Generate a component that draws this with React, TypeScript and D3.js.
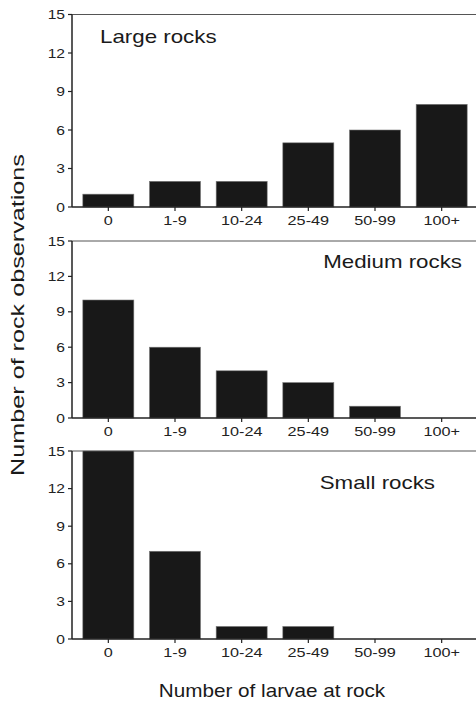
import React from "react";
import * as d3 from "d3";

const categories = ["0", "1-9", "10-24", "25-49", "50-99", "100+"];
const largeRocks = [1, 2, 2, 5, 6, 8];
const mediumRocks = [10, 6, 4, 3, 1, 0];
const smallRocks = [15, 7, 1, 1, 0, 0];
const yTicks = [0, 3, 6, 9, 12, 15];
const panelTitles = ["Large rocks", "Medium rocks", "Small rocks"];
const xTitle = "Number of larvae at rock";
const yTitle = "Number of rock observations";

const W = 476;
const H = 701;
const axisX = 72;
const rightX = 476;

const panels = [
  { title: panelTitles[0], values: largeRocks, top: 14.5, bottom: 207, labelX: 100, labelY: 43, anchor: "start" },
  { title: panelTitles[1], values: mediumRocks, top: 241, bottom: 418, labelX: 462, labelY: 268, anchor: "end" },
  { title: panelTitles[2], values: smallRocks, top: 451, bottom: 639, labelX: 435, labelY: 489, anchor: "end" },
];

const FONT = "'Liberation Sans', Arial, Helvetica, sans-serif";

export default function App() {
  const x = d3
    .scaleBand<string>()
    .domain(categories)
    .range([75, 475])
    .paddingInner(0.235)
    .paddingOuter(0.1175);

  return (
    <svg
      width={W}
      height={H}
      style={{ position: "absolute", left: 0, top: 0, background: "#fff" }}
      fontFamily={FONT}
    >
      {panels.map((p, pi) => {
        const y = d3.scaleLinear().domain([0, 15]).range([p.bottom, p.top]);
        return (
          <g key={pi}>
            <line x1={axisX} x2={rightX} y1={y(15)} y2={y(15)} stroke="#555" strokeWidth={1} />
            {p.values.map((v, i) =>
              v > 0 ? (
                <rect
                  key={i}
                  x={x(categories[i])}
                  y={y(v)}
                  width={x.bandwidth()}
                  height={y(0) - y(v)}
                  fill="#181818"
                  stroke="#777"
                  strokeWidth={0.6}
                />
              ) : null
            )}
            <line x1={axisX} x2={axisX} y1={y(15)} y2={y(0)} stroke="#222" strokeWidth={1.5} />
            {yTicks.map((t) => (
              <g key={t}>
                <line x1={axisX - 4} x2={axisX} y1={y(t)} y2={y(t)} stroke="#222" strokeWidth={1.2} />
                <text
                  transform={`translate(${axisX - 7},${y(t) + 4.5}) scale(1.25,1)`}
                  textAnchor="end"
                  fontSize={12.5}
                  fill="#222"
                >
                  {t}
                </text>
              </g>
            ))}
            <line x1={axisX} x2={rightX} y1={y(0)} y2={y(0)} stroke="#222" strokeWidth={1.5} />
            {categories.map((c) => {
              const cx = (x(c) as number) + x.bandwidth() / 2;
              return (
                <g key={c}>
                  <line x1={cx} x2={cx} y1={y(0)} y2={y(0) + 4} stroke="#222" strokeWidth={1.2} />
                  <text
                    transform={`translate(${cx},${y(0) + 18}) scale(1.3,1)`}
                    textAnchor="middle"
                    fontSize={12.5}
                    fill="#222"
                  >
                    {c}
                  </text>
                </g>
              );
            })}
            <text
              transform={`translate(${p.labelX},${p.labelY}) scale(1.24,1)`}
              textAnchor={p.anchor as any}
              fontSize={18}
              fill="#1a1a1a"
            >
              {p.title}
            </text>
          </g>
        );
      })}
      <text
        transform={`translate(272,697) scale(1.15,1)`}
        textAnchor="middle"
        fontSize={18}
        fill="#1a1a1a"
      >
        {xTitle}
      </text>
      <text
        transform={`translate(24,315) rotate(-90) scale(1.4,1)`}
        textAnchor="middle"
        fontSize={18}
        fill="#1a1a1a"
      >
        {yTitle}
      </text>
    </svg>
  );
}
